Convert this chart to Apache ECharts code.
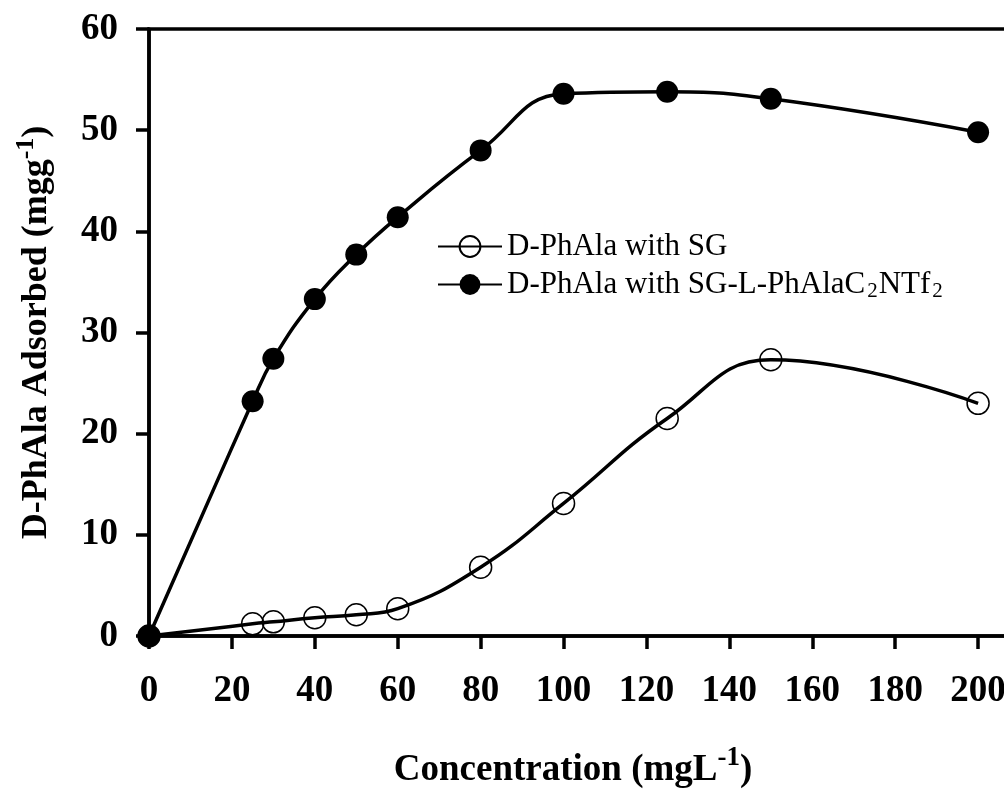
<!DOCTYPE html>
<html>
<head>
<meta charset="utf-8">
<script src="https://cdn.jsdelivr.net/npm/echarts@6/dist/echarts.min.js"></script>
<style>
html,body{margin:0;padding:0;background:#fff;}
#chart{width:1004px;height:789px;}
</style>
</head>
<body>
<div id="chart"></div>
<script>
var concentration = [0, 25, 30, 40, 50, 60, 80, 100, 125, 150, 200];
var withSG = [0, 1.2, 1.4, 1.8, 2.1, 2.7, 6.8, 13.1, 21.5, 27.3, 23.0];
var withSGL = [0, 23.2, 27.4, 33.3, 37.7, 41.4, 48.0, 53.6, 53.8, 53.1, 49.8];
var seriesNames = ['D-PhAla with SG', 'D-PhAla with SG-L-PhAlaC2NTf2'];
var xTicks = [0, 20, 40, 60, 80, 100, 120, 140, 160, 180, 200];
var yTicks = [0, 10, 20, 30, 40, 50, 60];

function pairs(xs, ys){ return xs.map(function(x,i){ return [x, ys[i]]; }); }

var FONT = '"Liberation Serif", "Times New Roman", serif';
var chart = echarts.init(document.getElementById('chart'), null, {renderer:'canvas'});
var option = {
  animation: false,
  backgroundColor: '#fff',
  grid: {
    left: 149, top: 29, width: 912, bottom: 153,
    outerBoundsMode: 'none', containLabel: false,
    show: true, borderColor: '#000', borderWidth: 3.5, backgroundColor: 'transparent'
  },
  legend: {
    left: 432, top: 226, orient: 'vertical',
    itemWidth: 64, itemHeight: 26, itemGap: 7,
    data: seriesNames,
    formatter: function(n){
      if (n.indexOf('C2NTf2') >= 0) return '{n|D-PhAla with SG-L-PhAlaC}{s|2}{n|NTf}{s|2}';
      return '{n|' + n + '}';
    },
    textStyle: {
      fontFamily: FONT, fontSize: 31, color: '#000',
      rich: {
        n: {fontFamily: FONT, fontSize: 31, color: '#000', lineHeight: 34, verticalAlign: 'middle'},
        s: {fontFamily: FONT, fontSize: 21, color: '#000', lineHeight: 10, verticalAlign: 'bottom', padding: [0,1,0,2]}
      }
    }
  },
  xAxis: {
    type: 'value', min: 0, max: 220, interval: 20,
    name: '{b|Concentration (mgL}{p|-1}{b|)}',
    nameLocation: 'middle', nameGap: 109,
    nameTextStyle: {
      padding: [0, 64, 0, 0],
      rich: {
        b: {fontFamily: FONT, fontWeight: 'bold', fontSize: 37, color: '#000', lineHeight: 44, verticalAlign: 'bottom'},
        p: {fontFamily: FONT, fontWeight: 'bold', fontSize: 27, color: '#000', lineHeight: 27, verticalAlign: 'top', padding:[0,0,20,0]}
      }
    },
    axisLine: {show: true, onZero: false, lineStyle: {color: '#000', width: 3.5}},
    axisTick: {show: true, inside: false, length: 13, lineStyle: {color: '#000', width: 3.5}},
    axisLabel: {
      margin: 37, fontFamily: FONT, fontWeight: 'bold', fontSize: 37, color: '#000',
      formatter: function(v){ return xTicks.indexOf(v) >= 0 ? String(v) : ''; }
    },
    splitLine: {show: false}
  },
  yAxis: {
    type: 'value', min: 0, max: 60, interval: 10,
    name: '{b|D-PhAla Adsorbed (mgg}{p|-1}{b|)}',
    nameLocation: 'middle', nameGap: 94, nameRotate: 90,
    nameTextStyle: {
      rich: {
        b: {fontFamily: FONT, fontWeight: 'bold', fontSize: 36, color: '#000', lineHeight: 42, verticalAlign: 'bottom'},
        p: {fontFamily: FONT, fontWeight: 'bold', fontSize: 26, color: '#000', lineHeight: 26, verticalAlign: 'top', padding:[0,0,18,0]}
      }
    },
    axisLine: {show: true, onZero: false, lineStyle: {color: '#000', width: 3.5}},
    axisTick: {show: true, inside: false, length: 13, lineStyle: {color: '#000', width: 3.5}},
    axisLabel: {
      margin: 31, fontFamily: FONT, fontWeight: 'bold', fontSize: 37, color: '#000',
      formatter: function(v){ return yTicks.indexOf(v) >= 0 ? String(v) : ''; }
    },
    splitLine: {show: false}
  },
  series: [
    {
      name: seriesNames[0], type: 'line', data: pairs(concentration, withSG),
      smooth: 0.45, symbol: 'circle', symbolSize: 22,
      lineStyle: {color: '#000', width: 3.5},
      itemStyle: {color: 'rgba(255,255,255,0)', borderColor: '#000', borderWidth: 1.5},
      z: 2
    },
    {
      name: seriesNames[1], type: 'line', data: pairs(concentration, withSGL),
      smooth: 0.45, symbol: 'circle', symbolSize: 22,
      lineStyle: {color: '#000', width: 3.5},
      itemStyle: {color: '#000', borderColor: '#000', borderWidth: 0},
      z: 3
    }
  ]
};
chart.setOption(option);
</script>
</body>
</html>
